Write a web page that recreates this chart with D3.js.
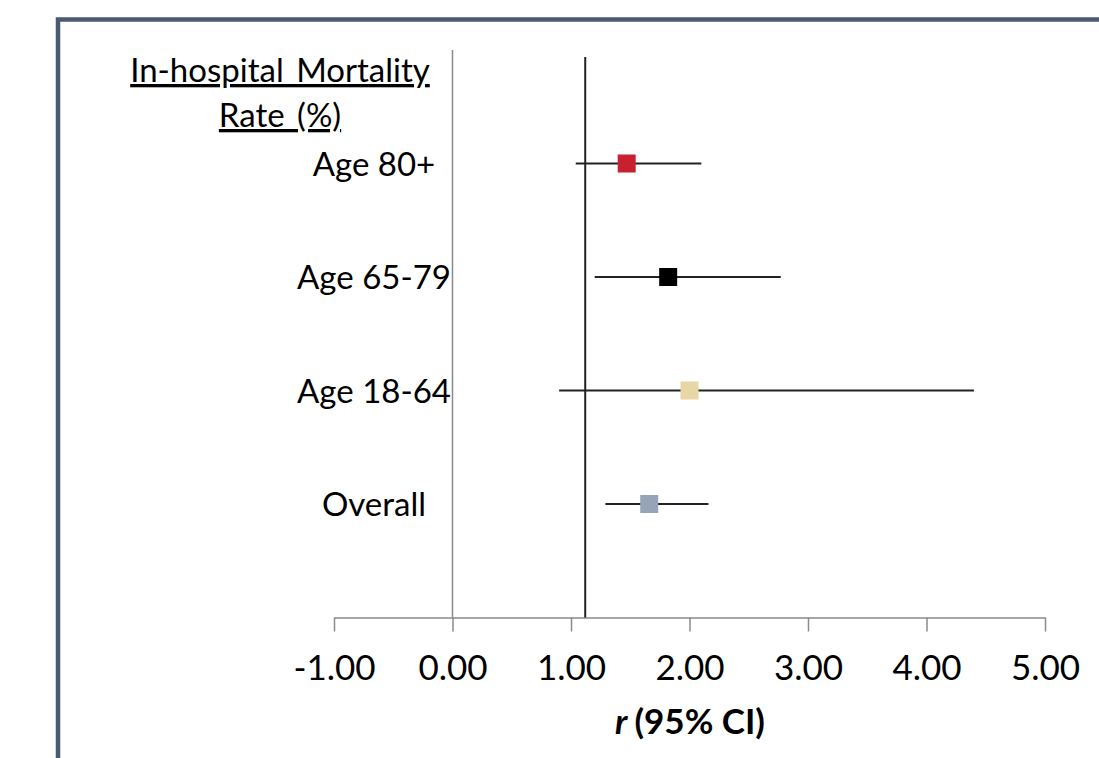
<!DOCTYPE html>
<html>
<head>
<meta charset="utf-8">
<script src="https://cdn.jsdelivr.net/npm/d3@7"></script>
<style>
  html, body { margin: 0; padding: 0; background: #fff; }
  svg { display: block; }
</style>
</head>
<body>
<svg id="chart" width="1099" height="758"></svg>
<script>
// Forest plot: correlation r with 95% CI by age group
const groups    = ["Age 80+", "Age 65-79", "Age 18-64", "Overall"];
const estimates = [1.47, 1.82, 2.00, 1.66];
const lowerCI   = [1.04, 1.20, 0.90, 1.29];
const upperCI   = [2.10, 2.77, 4.40, 2.16];
const colors    = ["#c9202f", "#000000", "#e8d6a6", "#97a3b7"];
const xTicks    = [-1, 0, 1, 2, 3, 4, 5];
const refLine   = 1.12;
const titleLines = ["In-hospital Mortality", "Rate (%)"];
const xTitle    = "(95% CI)";

const svg = d3.select("#chart");
const font = "Lato, 'Open Sans', sans-serif";

// outer frame
svg.append("rect")
  .attr("x", 58).attr("y", 19.5)
  .attr("width", 1200).attr("height", 1000)
  .attr("fill", "none")
  .attr("stroke", "#4b5a71")
  .attr("stroke-width", 4.5);

const x = d3.scaleLinear().domain([-1, 5]).range([334, 1045]);
// rows sit at integer slots between the top of the y line (0) and the x axis (5)
const y = d3.scaleLinear().domain([0, 5]).range([50, 617.5]);

// x axis
const xAxis = d3.axisBottom(x)
  .tickValues(xTicks)
  .tickFormat(d3.format(".2f"))
  .tickSize(14)
  .tickSizeOuter(0);
const gx = svg.append("g")
  .attr("transform", `translate(0,${y(5)})`)
  .call(xAxis);
gx.select(".domain").attr("stroke", "#8a8a8a").attr("stroke-width", 1.5);
gx.selectAll(".tick line").attr("stroke", "#8a8a8a").attr("stroke-width", 1.5);
gx.selectAll(".tick text")
  .attr("y", 38)
  .attr("dy", "0.71em")
  .attr("fill", "#000")
  .style("font-family", font)
  .style("font-size", "35px")
  .text(d => d3.format(".2f")(d).replace("−", "-"));

// vertical y line at x = 0
svg.append("line")
  .attr("x1", x(0)).attr("x2", x(0))
  .attr("y1", y(0)).attr("y2", y(5))
  .attr("stroke", "#8a8a8a").attr("stroke-width", 1.5);

// reference line
svg.append("line")
  .attr("x1", x(refLine)).attr("x2", x(refLine))
  .attr("y1", y(0) + 7).attr("y2", y(5))
  .attr("stroke", "#222").attr("stroke-width", 2);

// header
svg.selectAll("text.head")
  .data(titleLines)
  .join("text")
  .attr("class", "head")
  .attr("x", 280)
  .attr("y", (d, i) => 82 + i * 45)
  .attr("text-anchor", "middle")
  .style("font-family", font)
  .style("font-size", "33px")
  .style("word-spacing", "4px")
  .style("text-decoration", "underline")
  .attr("fill", "#000")
  .text(d => d);

// row labels
svg.selectAll("text.row")
  .data(groups)
  .join("text")
  .attr("class", "row")
  .attr("x", 374)
  .attr("y", (d, i) => y(i + 1) + 12)
  .attr("text-anchor", "middle")
  .style("font-family", font)
  .style("font-size", "33px")
  .attr("fill", "#000")
  .text(d => d);

// confidence intervals
svg.selectAll("line.ci")
  .data(groups)
  .join("line")
  .attr("class", "ci")
  .attr("x1", (d, i) => x(lowerCI[i]))
  .attr("x2", (d, i) => x(upperCI[i]))
  .attr("y1", (d, i) => y(i + 1))
  .attr("y2", (d, i) => y(i + 1))
  .attr("stroke", "#222")
  .attr("stroke-width", 1.8);

// point estimates
const sq = 18;
svg.selectAll("rect.pt")
  .data(groups)
  .join("rect")
  .attr("class", "pt")
  .attr("x", (d, i) => x(estimates[i]) - sq / 2)
  .attr("y", (d, i) => y(i + 1) - sq / 2)
  .attr("width", sq).attr("height", sq)
  .attr("fill", (d, i) => colors[i]);

// x axis title
const xt = svg.append("text")
  .attr("x", 690)
  .attr("y", 734)
  .attr("text-anchor", "middle")
  .style("font-family", font)
  .style("font-size", "35px")
  .style("font-weight", "bold")
  .attr("fill", "#000");
xt.append("tspan").style("font-style", "italic").text("r ");
xt.append("tspan").text(xTitle);
</script>
</body>
</html>
